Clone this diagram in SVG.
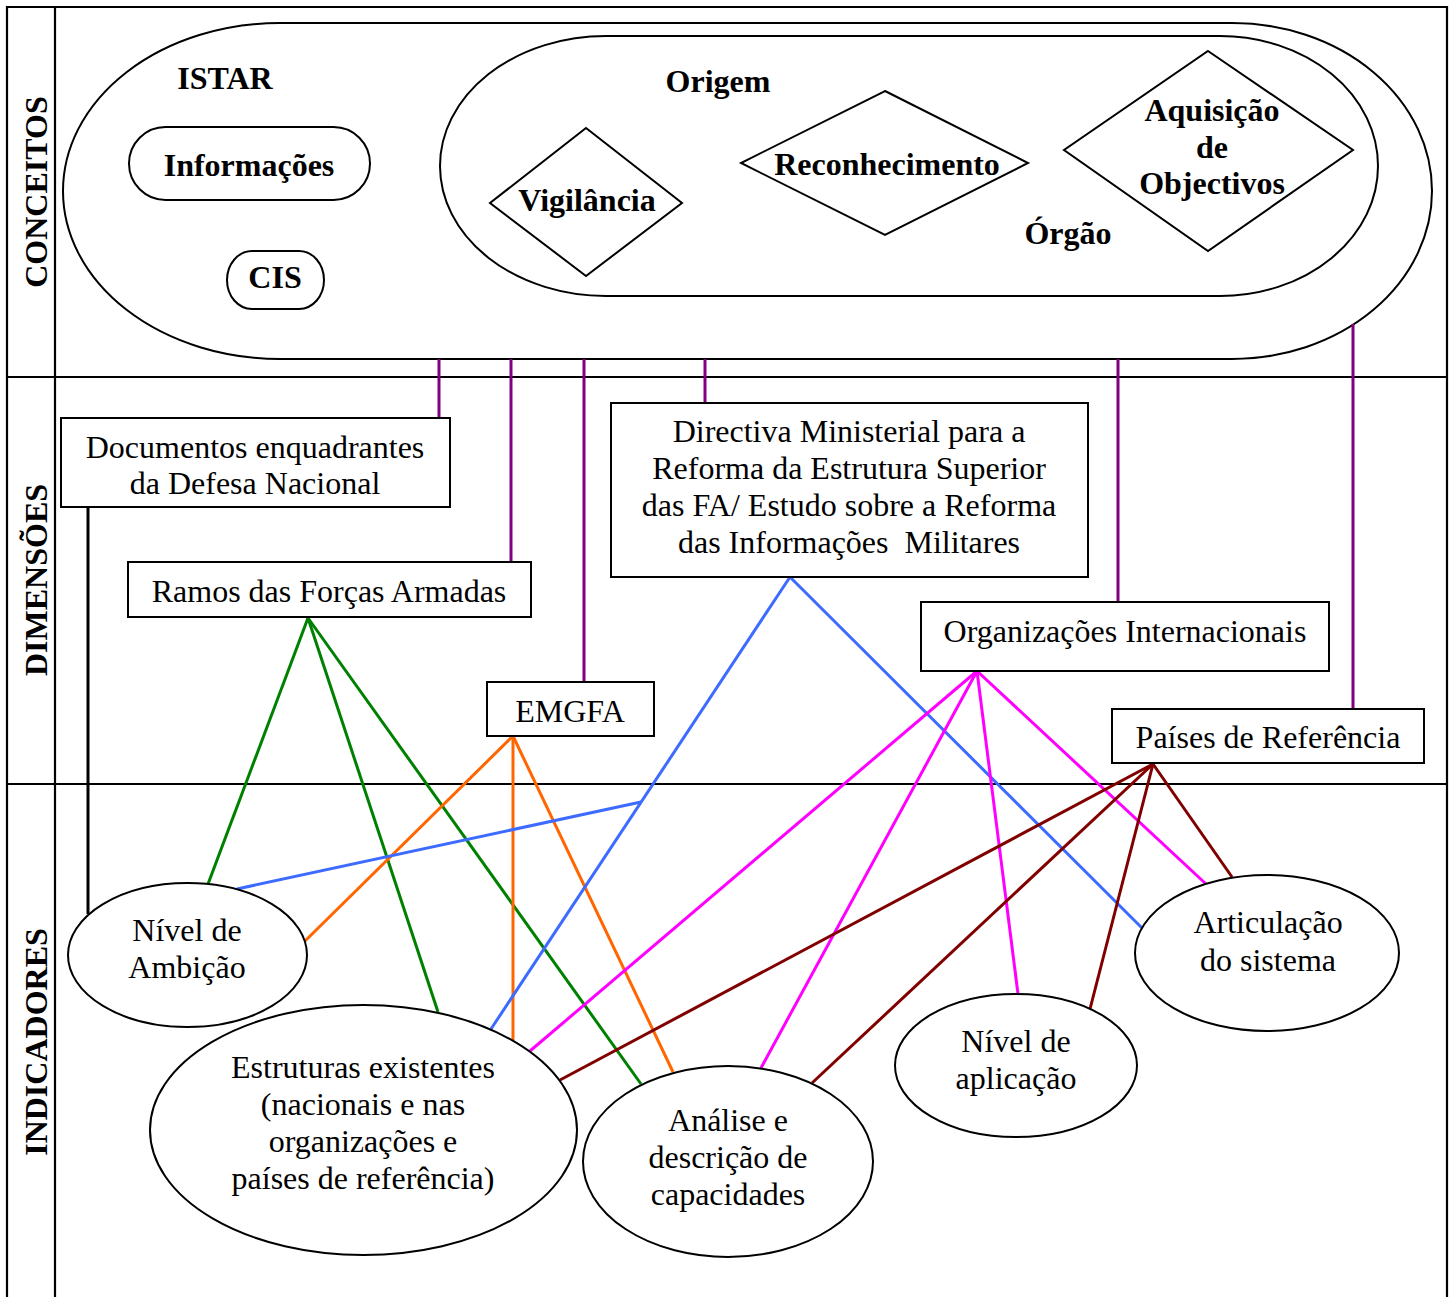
<svg xmlns="http://www.w3.org/2000/svg" width="1454" height="1297" viewBox="0 0 1454 1297">
  <style>
    .frame { stroke: #000; stroke-width: 2.2; fill: none; }
    .shape { stroke: #000; stroke-width: 2; fill: #fff; }
    .bold { font-family: "Liberation Serif", "Times New Roman", serif; font-weight: bold; font-size: 32px; fill: #000; text-anchor: middle; }
    .txt { font-family: "Liberation Serif", "Times New Roman", serif; font-size: 32px; fill: #000; text-anchor: middle; }
    .link { fill: none; stroke-width: 3; stroke-linecap: butt; }
    .purple { stroke: #800080; }
    .green { stroke: #008000; }
    .orange { stroke: #ff6600; }
    .blue { stroke: #3d6bff; }
    .pink { stroke: #ff00ff; }
    .brown { stroke: #800000; }
    .black { stroke: #000; }
  </style>
  <rect width="1454" height="1297" fill="#fff"/>

  <!-- table frame: three rows, label column -->
  <g id="frame">
    <path class="frame" d="M7,1297 V7 H1447 V1297"/>
    <line class="frame" x1="55" y1="7" x2="55" y2="1297"/>
    <line class="frame" x1="7" y1="377" x2="1447" y2="377"/>
    <line class="frame" x1="7" y1="784" x2="1447" y2="784"/>
    <text class="bold" transform="translate(47,192) rotate(-90)">CONCEITOS</text>
    <text class="bold" transform="translate(47,580) rotate(-90)">DIMENSÕES</text>
    <text class="bold" transform="translate(47,1042) rotate(-90)">INDICADORES</text>
  </g>

  <!-- concepts -->
  <g id="istar">
    <path class="shape" d="M280,23 H1232 A200,168 0 0 1 1232,359 H280 A217,168 0 0 1 280,23 Z"/>
    <text class="bold" x="225" y="89">ISTAR</text>
  </g>
  <g id="orgao">
    <path class="shape" d="M606,36 H1220 A158,130 0 0 1 1220,296 H606 A166,130 0 0 1 606,36 Z"/>
    <text class="bold" x="718" y="92">Origem</text>
    <text class="bold" x="1068" y="244">Órgão</text>
  </g>
  <g id="informacoes">
    <rect class="shape" x="129" y="127" width="241" height="73" rx="36.5" ry="36.5"/>
    <text class="bold" x="249" y="176">Informações</text>
  </g>
  <g id="cis">
    <rect class="shape" x="227" y="251" width="97" height="58" rx="25" ry="29"/>
    <text class="bold" x="275" y="288">CIS</text>
  </g>
  <g id="vigilancia">
    <polygon class="shape" points="586,128 682,203 586,276 490,203"/>
    <text class="bold" x="587" y="211">Vigilância</text>
  </g>
  <g id="reconhecimento">
    <polygon class="shape" points="885,91 1028,163 885,235 741,163"/>
    <text class="bold" x="887" y="175">Reconhecimento</text>
  </g>
  <g id="aquisicao">
    <polygon class="shape" points="1208,51 1353,150 1208,251 1064,150"/>
    <text class="bold" x="1212" y="121">Aquisição</text>
    <text class="bold" x="1212" y="158">de</text>
    <text class="bold" x="1212" y="194">Objectivos</text>
  </g>

  <!-- connectors -->
  <g id="connectors">
    <line class="link purple" x1="439" y1="359" x2="439" y2="418"/>
    <line class="link purple" x1="511" y1="359" x2="511" y2="562"/>
    <line class="link purple" x1="584" y1="359" x2="584" y2="682"/>
    <line class="link purple" x1="705" y1="359" x2="705" y2="403"/>
    <line class="link purple" x1="1118" y1="359" x2="1118" y2="602"/>
    <line class="link purple" x1="1353" y1="324" x2="1353" y2="709"/>

    <line class="link black" x1="88" y1="507" x2="88" y2="914"/>

    <line class="link green" x1="308" y1="618" x2="208" y2="884"/>
    <line class="link green" x1="308" y1="618" x2="438" y2="1012"/>
    <line class="link green" x1="308" y1="618" x2="641" y2="1084"/>

    <line class="link orange" x1="513" y1="736" x2="305" y2="941"/>
    <line class="link orange" x1="513" y1="736" x2="513" y2="1040"/>
    <line class="link orange" x1="513" y1="736" x2="673" y2="1072"/>

    <line class="link blue" x1="790" y1="577" x2="491" y2="1029"/>
    <line class="link blue" x1="641" y1="802" x2="237" y2="889" stroke-width="4"/>
    <line class="link blue" x1="790" y1="577" x2="1142" y2="928"/>

    <line class="link pink" x1="977" y1="671" x2="530" y2="1051"/>
    <line class="link pink" x1="977" y1="671" x2="761" y2="1068"/>
    <line class="link pink" x1="977" y1="671" x2="1018" y2="994"/>
    <line class="link pink" x1="977" y1="671" x2="1206" y2="884"/>

    <line class="link brown" x1="1153" y1="764" x2="560" y2="1080"/>
    <line class="link brown" x1="1153" y1="764" x2="812" y2="1083"/>
    <line class="link brown" x1="1153" y1="764" x2="1090" y2="1009"/>
    <line class="link brown" x1="1153" y1="764" x2="1232" y2="877"/>
  </g>

  <!-- dimensions -->
  <g id="documentos">
    <rect class="shape" x="61" y="418" width="389" height="89"/>
    <text class="txt" x="255" y="458">Documentos enquadrantes</text>
    <text class="txt" x="255" y="494">da Defesa Nacional</text>
  </g>
  <g id="ramos">
    <rect class="shape" x="128" y="562" width="403" height="55"/>
    <text class="txt" x="329" y="602">Ramos das Forças Armadas</text>
  </g>
  <g id="emgfa">
    <rect class="shape" x="487" y="682" width="167" height="54"/>
    <text class="txt" x="570" y="722">EMGFA</text>
  </g>
  <g id="directiva">
    <rect class="shape" x="611" y="403" width="477" height="174"/>
    <text class="txt" x="849" y="442">Directiva Ministerial para a</text>
    <text class="txt" x="849" y="479">Reforma da Estrutura Superior</text>
    <text class="txt" x="849" y="516">das FA/ Estudo sobre a Reforma</text>
    <text class="txt" x="849" y="553" xml:space="preserve">das Informações  Militares</text>
  </g>
  <g id="organizacoes">
    <rect class="shape" x="921" y="602" width="408" height="69"/>
    <text class="txt" x="1125" y="642">Organizações Internacionais</text>
  </g>
  <g id="paises">
    <rect class="shape" x="1112" y="709" width="312" height="54"/>
    <text class="txt" x="1268" y="748">Países de Referência</text>
  </g>

  <!-- indicators -->
  <g id="nivel-ambicao">
    <ellipse class="shape" cx="187.5" cy="955" rx="119.5" ry="72"/>
    <text class="txt" x="187" y="941">Nível de</text>
    <text class="txt" x="187" y="978">Ambição</text>
  </g>
  <g id="estruturas">
    <ellipse class="shape" cx="363.5" cy="1130" rx="213.5" ry="125"/>
    <text class="txt" x="363" y="1078">Estruturas existentes</text>
    <text class="txt" x="363" y="1115">(nacionais e nas</text>
    <text class="txt" x="363" y="1152">organizações e</text>
    <text class="txt" x="363" y="1189">países de referência)</text>
  </g>
  <g id="analise">
    <ellipse class="shape" cx="728" cy="1161.5" rx="145" ry="95.5"/>
    <text class="txt" x="728" y="1131">Análise e</text>
    <text class="txt" x="728" y="1168">descrição de</text>
    <text class="txt" x="728" y="1205">capacidades</text>
  </g>
  <g id="nivel-aplicacao">
    <ellipse class="shape" cx="1016" cy="1065.5" rx="121" ry="71.5"/>
    <text class="txt" x="1016" y="1052">Nível de</text>
    <text class="txt" x="1016" y="1089">aplicação</text>
  </g>
  <g id="articulacao">
    <ellipse class="shape" cx="1267" cy="953" rx="132" ry="78"/>
    <text class="txt" x="1268" y="933">Articulação</text>
    <text class="txt" x="1268" y="971">do sistema</text>
  </g>
</svg>
